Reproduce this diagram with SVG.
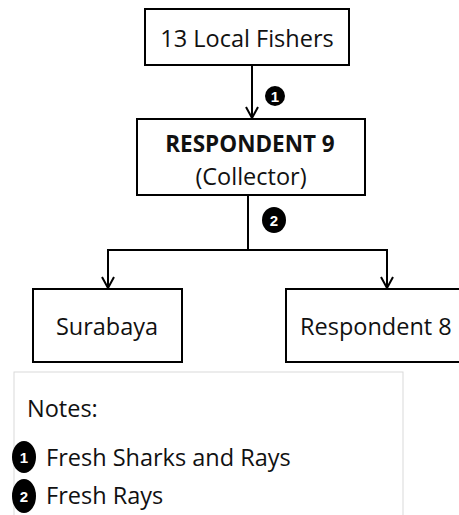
<svg xmlns="http://www.w3.org/2000/svg" width="459" height="515" viewBox="0 0 459 515">
  <style>
    .box { fill: #ffffff; stroke: #000000; stroke-width: 2; }
    .lbl { font-family: "Open Sans", "Liberation Sans", sans-serif; font-size: 23.5px; fill: #111111; }
    .bold { font-weight: bold; font-size: 22.5px; }
    .edge { fill: none; stroke: #000000; stroke-width: 2; }
    .badge { fill: #000000; }
    .num { font-family: "Liberation Sans", sans-serif; font-weight: bold; font-size: 15px; fill: #ffffff; text-anchor: middle; }
  </style>
  <defs>
    <marker id="arrow" viewBox="0 0 14 14" refX="12" refY="7" markerWidth="14" markerHeight="14" markerUnits="userSpaceOnUse" orient="auto">
      <path d="M1,1 L12,7 L1,13" fill="none" stroke="#000" stroke-width="2"/>
    </marker>
  </defs>

  <g id="connectors">
    <line class="edge" x1="252" y1="65" x2="252" y2="118" marker-end="url(#arrow)"/>
    <polyline class="edge" points="248,195 248,250"/>
    <polyline class="edge" points="108,288 108,250 387,250 387,288" marker-end="url(#arrow)"/>
    <line class="edge" x1="108" y1="250" x2="108" y2="288" marker-end="url(#arrow)"/>
    <g id="badge-1">
      <ellipse class="badge" cx="275" cy="96" rx="10" ry="10"/>
      <text class="num" x="275" y="101.5">1</text>
    </g>
    <g id="badge-2">
      <ellipse class="badge" cx="274" cy="220" rx="12" ry="13"/>
      <text class="num" x="274" y="225.5">2</text>
    </g>
  </g>

  <g id="local-fishers">
    <rect class="box" x="145" y="9" width="204" height="56"/>
    <text class="lbl" x="247" y="47" text-anchor="middle">13 Local Fishers</text>
  </g>

  <g id="respondent-9">
    <rect class="box" x="137" y="119" width="228" height="76"/>
    <text class="lbl bold" x="250" y="152" text-anchor="middle">RESPONDENT 9</text>
    <text class="lbl" x="251" y="185" text-anchor="middle">(Collector)</text>
  </g>

  <g id="surabaya">
    <rect class="box" x="33" y="289" width="149" height="73"/>
    <text class="lbl" x="107" y="335" text-anchor="middle">Surabaya</text>
  </g>

  <g id="respondent-8">
    <rect class="box" x="286" y="289" width="180" height="73"/>
    <text class="lbl" x="300" y="335">Respondent  8</text>
  </g>

  <g id="notes">
    <rect x="14" y="372" width="389" height="150" fill="#ffffff" stroke="#d9d9d9" stroke-width="1"/>
    <text class="lbl" x="27" y="417">Notes:</text>
    <ellipse class="badge" cx="24" cy="457" rx="12" ry="16"/>
    <text class="num" x="24" y="462.5">1</text>
    <text class="lbl" x="46" y="466">Fresh Sharks and Rays</text>
    <ellipse class="badge" cx="24" cy="496" rx="12" ry="17"/>
    <text class="num" x="24" y="501.5">2</text>
    <text class="lbl" x="46" y="504">Fresh Rays</text>
  </g>
</svg>
